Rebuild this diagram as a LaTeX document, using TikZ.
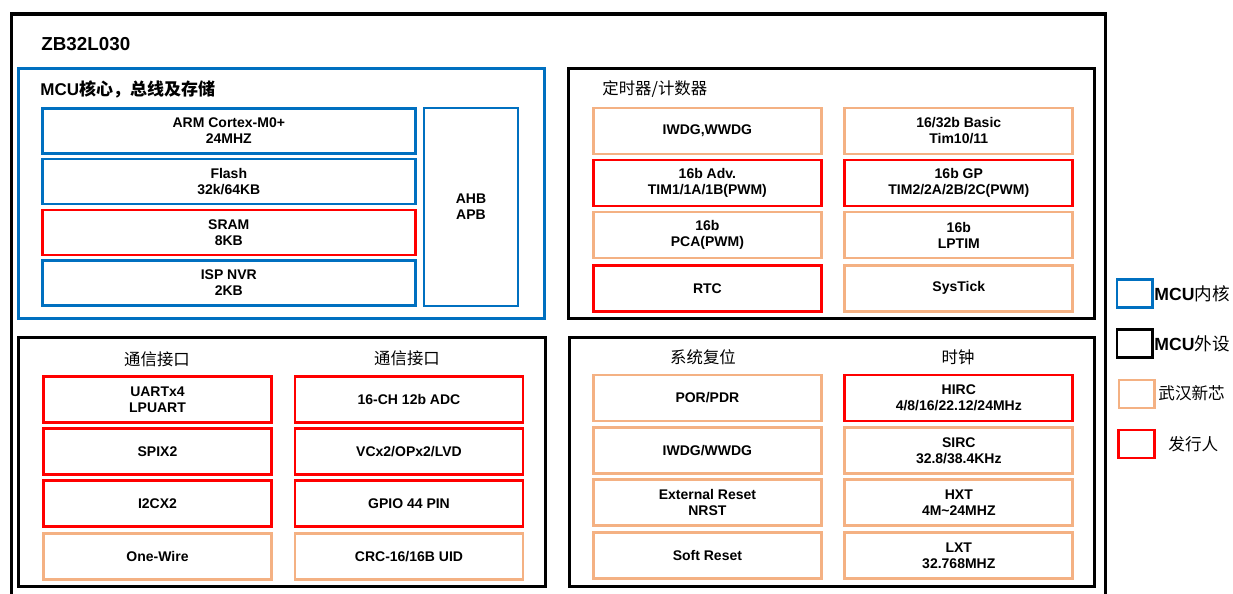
\documentclass[tikz,border=0pt]{standalone}
\usepackage{fontspec}
\setmainfont{Liberation Sans}
\newfontfamily\cjk{Noto Sans CJK SC}
\usepackage{tikz}
\definecolor{coreblue}{HTML}{0070C0}
\definecolor{xmcorange}{HTML}{F4B183}
\definecolor{issred}{HTML}{FF0000}
\tikzset{
	cell/.style={draw, line width=1.4pt, inner sep=0pt, align=center,
		minimum width=114pt, minimum height=23pt,
		font=\bfseries\fontsize{7}{8}\selectfont},
	corecell/.style={cell, draw=coreblue, minimum width=186.5pt, minimum height=22.5pt},
	xmc/.style={cell, draw=xmcorange},
	iss/.style={cell, draw=issred},
	grp/.style={draw, line width=1.5pt, inner sep=0pt},
	hdr/.style={inner sep=0pt, font=\cjk\fontsize{8.2}{10}\selectfont},
	legendbox/.style={draw, line width=1.4pt, inner sep=0pt, minimum width=17.75pt, minimum height=14pt},
	legendtext/.style={anchor=west, inner sep=0pt, font=\fontsize{8.3}{10}\selectfont}
}

\begin{document}
\begin{tikzpicture}[x=0.5pt, y=-0.5pt]
	\useasboundingbox (0,0) rectangle (1233,594);
	\clip (0,0) rectangle (1233,594);
	\node[grp, line width=1.7pt, minimum width=547pt, minimum height=298pt] (chip) at (558.6,312) {};
	\node[anchor=west, inner sep=0pt, font=\bfseries\fontsize{9.4}{11}\selectfont] (chipname) at (41,44) {ZB32L030};

	\node[grp, draw=coreblue, minimum width=263pt, minimum height=125pt] (coregrp) at (281,193) {};
	\node[anchor=west, inner sep=0pt, font=\bfseries\fontsize{8.5}{10}\selectfont] (coretitle) at (40,89) {MCU{\cjk 核心，总线及存储}};
	\node[corecell] (arm) at (228.8,131) {ARM Cortex-M0+\\24MHZ};
	\node[corecell] (flash) at (228.8,181.5) {Flash\\32k/64KB};
	\node[corecell, draw=issred] (sram) at (228.8,232.5) {SRAM\\8KB};
	\node[corecell] (nvr) at (228.8,283) {ISP NVR\\2KB};
	\node[corecell, minimum width=47pt, minimum height=99pt] (bus) at (471,207) {AHB\\APB};

	\node[grp, minimum width=263pt, minimum height=125pt] (timgrp) at (831,193) {};
	\node[anchor=west, inner sep=0pt, font=\cjk\fontsize{8.2}{10}\selectfont] (timtitle) at (602,89.5) {定时器/计数器};
	\node[xmc] (wdg) at (707.4,131) {IWDG,WWDG};
	\node[iss] (tim1) at (707.4,183) {16b Adv.\\TIM1/1A/1B(PWM)};
	\node[xmc] (pca) at (707.4,235) {16b\\PCA(PWM)};
	\node[iss] (rtc) at (707.4,288.3) {RTC};
	\node[xmc] (basic) at (958.8,131) {16/32b Basic\\Tim10/11};
	\node[iss] (tim2) at (958.8,183) {16b GP\\TIM2/2A/2B/2C(PWM)};
	\node[xmc] (lptim) at (958.8,235) {16b\\LPTIM};
	\node[xmc] (systick) at (958.8,288.3) {SysTick};

	\node[grp, minimum width=263.5pt, minimum height=124.5pt] (comgrp) at (282,462) {};
	\node[hdr] (comhdr1) at (157,359.5) {通信接口};
	\node[hdr] (comhdr2) at (407,358) {通信接口};
	\node[iss] (uart) at (157.5,399.5) {UARTx4\\LPUART};
	\node[iss] (spi) at (157.5,451.5) {SPIX2};
	\node[iss] (i2c) at (157.5,503.7) {I2CX2};
	\node[xmc] (onewire) at (157.5,556.5) {One-Wire};
	\node[iss] (adc) at (409,399.5) {16-CH 12b ADC};
	\node[iss] (vc) at (409,451.5) {VCx2/OPx2/LVD};
	\node[iss] (gpio) at (409,503.7) {GPIO 44 PIN};
	\node[xmc] (crc) at (409,556.5) {CRC-16/16B UID};

	\node[grp, minimum width=262.5pt, minimum height=124.5pt] (rstgrp) at (831.5,462) {};
	\node[hdr] (rsthdr) at (703,357.5) {系统复位};
	\node[hdr] (clkhdr) at (958,357.5) {时钟};
	\node[xmc] (por) at (707.4,398) {POR/PDR};
	\node[xmc] (rstwdg) at (707.4,450.5) {IWDG/WWDG};
	\node[xmc] (nrst) at (707.4,502.5) {External Reset\\NRST};
	\node[xmc] (softrst) at (707.4,555.5) {Soft Reset};
	\node[iss] (hirc) at (958.8,398) {HIRC\\4/8/16/22.12/24MHz};
	\node[xmc] (sirc) at (958.8,450.5) {SIRC\\32.8/38.4KHz};
	\node[xmc] (hxt) at (958.8,502.5) {HXT\\4M\textasciitilde 24MHZ};
	\node[xmc] (lxt) at (958.8,555.5) {LXT\\32.768MHZ};

	\node[legendbox, draw=coreblue] (keycore) at (1134.8,293.5) {};
	\node[legendbox, draw=black] (keyperi) at (1134.8,343.4) {};
	\node[legendbox, draw=xmcorange] (keyxmc) at (1136.7,394) {};
	\node[legendbox, draw=issred] (keyiss) at (1136.4,444) {};
	\node[legendtext, font=\fontsize{8.8}{10}\selectfont] (txtcore) at (1154,294) {\textbf{MCU}{\cjk 内核}};
	\node[legendtext, font=\fontsize{8.8}{10}\selectfont] (txtperi) at (1154,344) {\textbf{MCU}{\cjk 外设}};
	\node[legendtext] (txtxmc) at (1158,393) {\cjk 武汉新芯};
	\node[legendtext] (txtiss) at (1168,444) {\cjk 发行人};
\end{tikzpicture}
\end{document}
